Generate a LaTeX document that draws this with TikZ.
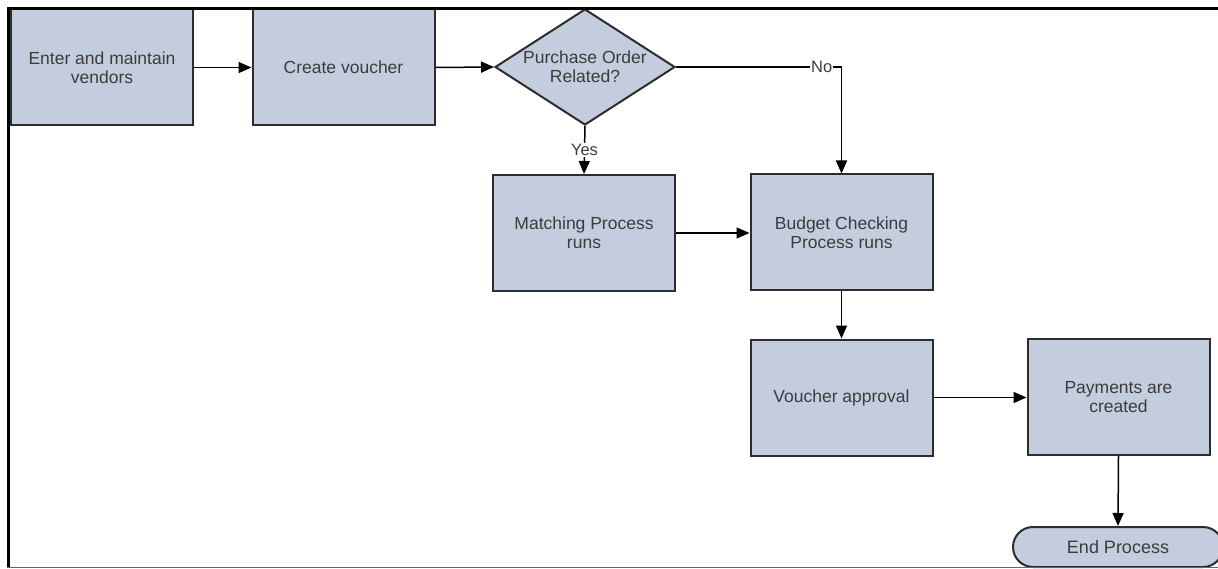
\documentclass[tikz,border=0pt]{standalone}
\usepackage{fontspec}
\setmainfont{Liberation Sans}
\usetikzlibrary{shapes.geometric,shapes.misc,arrows.meta}
\definecolor{boxfill}{RGB}{195,205,222}
\definecolor{boxline}{RGB}{45,45,45}
\definecolor{boxtext}{RGB}{60,60,60}
\begin{document}
\begin{tikzpicture}[x=1pt,y=-1pt]
	\tikzstyle{process}=[rectangle,draw=boxline,line width=2pt,fill=boxfill,text=boxtext,align=center,font=\fontsize{17.5}{19}\selectfont,inner sep=0pt,minimum width=182pt,minimum height=116pt]
	\tikzstyle{decision}=[diamond,draw=boxline,line width=2pt,fill=boxfill,text=boxtext,align=center,font=\fontsize{17.5}{19}\selectfont,inner sep=0pt,aspect=1.55,minimum width=180pt,minimum height=116pt]
	\tikzstyle{terminal}=[rounded rectangle,draw=boxline,line width=2pt,fill=boxfill,text=boxtext,font=\fontsize{18}{20}\selectfont,minimum width=210pt,minimum height=40pt,inner sep=0pt]
	\tikzstyle{edge}=[draw, line width=1.5pt, -{Triangle[length=13pt,width=11pt]}]
	\tikzstyle{answer}=[fill=white,text=boxtext,font=\fontsize{16.5}{18}\selectfont,inner sep=1pt]
	\useasboundingbox (0,0) rectangle (1218,569);
	\clip (0,0) rectangle (1218,569);
	\fill[white] (0,0) rectangle (1218,569);
	\begin{scope}
		\node [process] (vendors) at (102,67.5) {Enter and maintain\\vendors};
		\node [process] (create) at (343.5,67.5) {Create voucher};
		\node [decision] (related) at (585,67) {Purchase Order\\Related?};
		\node [process] (matching) at (584,233) {Matching Process\\runs};
		\node [process] (budget) at (841.5,232.5) {Budget Checking\\Process runs};
		\node [process] (approval) at (841.5,397.5) {Voucher approval};
		\node [process] (payments) at (1118.5,397) {Payments are\\created};
		\node [terminal] (endproc) at (1118,547) {End Process};
		\path[edge] (vendors) -- (create);
		\path[edge] (create.east) -- (related.west);
		\path[edge] (related.east) -- node[answer,pos=0.88] {No} (related.east -| budget.north) -- (budget.north);
		\path[edge] (related.south) -- node[answer] {Yes} (matching.north);
		\path[edge] (matching.east) -- (matching.east -| budget.west);
		\path[edge] (budget) -- (approval);
		\path[edge] (approval.east) -- (approval.east -| payments.west);
		\path[edge] (payments.south) -- (endproc.north);
	\end{scope}
	% frame
	\draw[black,line width=3.5pt] (7,8.5) -- (1218,8.5);
	\draw[black,line width=3pt] (8.5,7) -- (8.5,568);
	\draw[gray!80!black,line width=1.5pt] (7,567.5) -- (1218,567.5);
\end{tikzpicture}
\end{document}
